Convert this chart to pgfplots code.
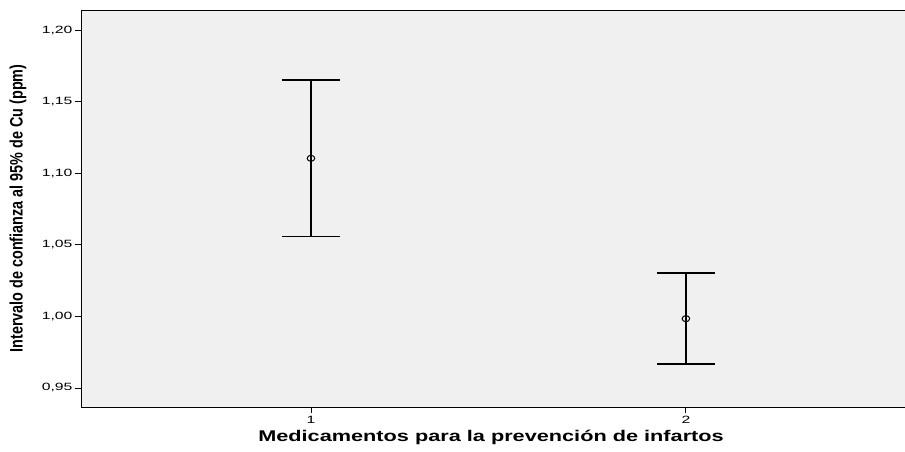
\documentclass[border=0pt]{standalone}
\usepackage{fontspec}
\setmainfont{Liberation Sans}
\newfontfamily\tickfont[FakeStretch=1.5]{Liberation Sans}
\newfontfamily\ylabfont[FakeStretch=0.8]{Liberation Sans Bold}
\newfontfamily\xlabfont[FakeStretch=1.4]{Liberation Sans Bold}
\usepackage{pgfplots}
\pgfplotsset{compat=1.18}
\usepackage{pgfplotstable}
\definecolor{PanelGray}{RGB}{240,240,240}

% group, mean, upper error, lower error
\pgfplotstableread{
x  y       ep      em
1  1.1104  0.0547  0.0547
2  0.9984  0.0319  0.0318
}\cidata

\begin{document}
\begin{tikzpicture}
\begin{axis}[
  width=825pt, height=397pt, scale only axis,
  xmin=0.3867, xmax=2.587, ymin=0.9367, ymax=1.214,
  axis background/.style={fill=PanelGray},
  axis line style={line width=0.9pt},
  tick align=outside, xtick pos=left, ytick pos=left,
  major tick length=6pt, tick style={line width=0.9pt, black},
  xtick={1,2},
  ytick={0.95,1.00,1.05,1.10,1.15,1.20},
  /pgf/number format/assume math mode=true,
  yticklabel style={/pgf/number format/use comma, /pgf/number format/fixed,
    /pgf/number format/fixed zerofill, /pgf/number format/precision=2, xshift=1pt},
  ticklabel style={font=\tickfont\fontsize{10.5}{12}\selectfont},
  ylabel={Intervalo de confianza al 95\% de Cu (ppm)},
  ylabel style={at={(axis description cs:-0.0764,0.5)}, anchor=center, rotate=0,
    font=\ylabfont\fontsize{18}{20}\selectfont},
  xlabel={Medicamentos para la prevención de infartos},
  xlabel style={at={(axis description cs:0.497,-0.0756)}, anchor=center,
    font=\xlabfont\fontsize{15.5}{17}\selectfont},
]
\addplot[black, only marks, mark=o, mark size=3.8pt, mark options={line width=1pt, yscale=0.8},
  error bars/.cd, y dir=both, y explicit,
  error bar style={line width=1.7pt, black},
  error mark options={rotate=90, mark size=29pt, line width=1.7pt, black}]
  table[x=x, y=y, y error plus=ep, y error minus=em] {\cidata};
\coordinate (sw) at (rel axis cs:0,0);
\coordinate (ne) at (rel axis cs:1,1);
\end{axis}
\pgfresetboundingbox
\path ([shift={(-81pt,-45pt)}]sw) rectangle ([shift={(-1pt,10pt)}]ne);
\end{tikzpicture}
\end{document}
